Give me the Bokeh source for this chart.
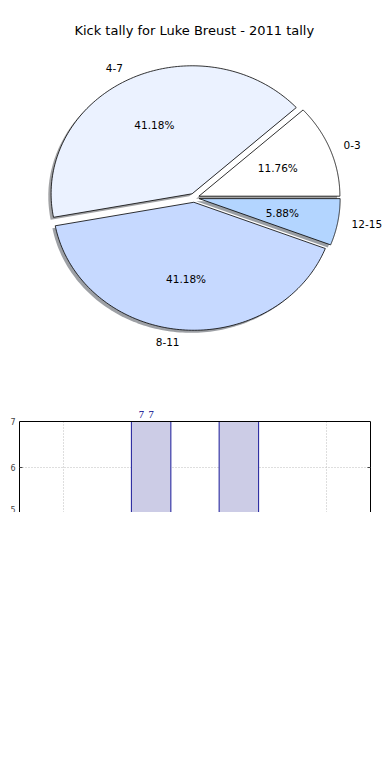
import numpy as np
from bokeh.plotting import figure
from bokeh.models import (ColumnDataSource, Label, LabelSet, LinearAxis,
                          FixedTicker, Range1d, Grid, Span)
from bokeh.core.properties import value, field
from bokeh.embed import file_html
from bokeh.resources import INLINE

# ---------------- data ----------------
title_text = "Kick tally for Luke Breust - 2011 tally"
categories = ["0-3", "4-7", "8-11", "12-15"]
counts = [2, 7, 7, 1]
slice_colors = ["#FFFFFF", "#EBF2FF", "#C6D9FF", "#B3D5FF"]
explode = [0.035, 0.035, 0.035, 0.035]

bar_x = [0, 1, 2, 3]
bar_label_x = [0.0, 0.89, 1.0, 3.0]
y_ticks = [5, 6, 7]
x_ticks = [0, 1, 2, 3]
y_shown = (5, 7)

FONT = "DejaVu Sans"

# ---------------- pie ----------------
total = float(sum(counts))
fracs = [c / total for c in counts]
theta = np.cumsum([0.0] + fracs) * 2 * np.pi


def hex_to_rgb(h):
    h = h.lstrip("#")
    return tuple(int(h[i:i + 2], 16) for i in (0, 2, 4))


px, py, fills, falpha, lalpha = [], [], [], [], []
lab_x, lab_y, lab_t, lab_a = [], [], [], []
pct_x, pct_y, pct_t = [], [], []
for i, c in enumerate(counts):
    t0, t1 = theta[i], theta[i + 1]
    mid = 0.5 * (t0 + t1)
    dx, dy = explode[i] * np.cos(mid), explode[i] * np.sin(mid)
    arc = np.linspace(t0, t1, 120)
    xs = [dx] + list(dx + np.cos(arc)) + [dx]
    ys = [dy] + list(dy + np.sin(arc)) + [dy]
    r, g, b = hex_to_rgb(slice_colors[i])
    shadow = "#%02x%02x%02x" % (int(r * 0.3), int(g * 0.3), int(b * 0.3))
    px.append([x - 0.02 for x in xs]); py.append([y - 0.02 for y in ys])
    fills.append(shadow); falpha.append(0.5); lalpha.append(0.0)
    px.append(xs); py.append(ys)
    fills.append(slice_colors[i]); falpha.append(1.0); lalpha.append(1.0)
    xt = dx + 1.1 * np.cos(mid)
    yt = dy + 1.1 * np.sin(mid)
    lab_x.append(xt); lab_y.append(yt); lab_t.append(categories[i])
    lab_a.append("left" if xt > 0 else "right")
    pct_x.append(dx + 0.6 * np.cos(mid)); pct_y.append(dy + 0.6 * np.sin(mid))
    pct_t.append("%.2f%%" % (100.0 * fracs[i]))

# frame covers the whole canvas
p1 = figure(width=382, height=388, x_range=Range1d(-1.3745, 1.3348),
            y_range=Range1d(-1.4898, 1.5414), output_backend="svg",
            toolbar_location=None, min_border=0,
            x_axis_location=None, y_axis_location=None)
p1.grid.visible = False
p1.outline_line_color = None

pie_src = ColumnDataSource(dict(xs=px, ys=py, fill=fills, fa=falpha, la=lalpha))
p1.patches("xs", "ys", source=pie_src, fill_color="fill", fill_alpha="fa",
           line_color="black", line_alpha="la", line_width=0.8)

lab_src = ColumnDataSource(dict(x=lab_x, y=lab_y, t=lab_t, a=lab_a))
p1.text("x", "y", text="t", source=lab_src, text_align=field("a"),
        text_baseline="middle", text_font=value(FONT),
        text_font_size="10.5px", text_color="black")
pct_src = ColumnDataSource(dict(x=pct_x, y=pct_y, t=pct_t))
p1.text("x", "y", text="t", source=pct_src, text_align="center",
        text_baseline="middle", text_font=value(FONT),
        text_font_size="10.5px", text_color="black")

p1.add_layout(Label(x=0.0, y=1.307, text=title_text, text_align="center",
                    text_baseline="middle", text_font=FONT,
                    text_font_size="13px", text_color="black"))

# ---------------- bars ----------------
p2 = figure(width=382, height=124, x_range=Range1d(-0.5, 3.5),
            y_range=Range1d(5, 7.3077), output_backend="svg",
            toolbar_location=None, min_border_left=19, min_border_right=12,
            min_border_top=19, min_border_bottom=0,
            x_axis_location=None, y_axis_location=None)
p2.grid.visible = False
p2.outline_line_color = None

grid_style = dict(grid_line_color="#bdbdbd", grid_line_dash="1 2",
                  grid_line_width=1)
p2.add_layout(Grid(dimension=1, ticker=FixedTicker(ticks=y_ticks), **grid_style))
if "cross_bounds" in Grid.properties():
    p2.add_layout(Grid(dimension=0, ticker=FixedTicker(ticks=x_ticks),
                       cross_bounds=y_shown, **grid_style))
else:
    p2.segment(x0=x_ticks, x1=x_ticks, y0=[y_shown[0]] * len(x_ticks),
               y1=[y_shown[1]] * len(x_ticks), line_color="#bdbdbd",
               line_dash="1 2", line_width=1)

bar_src = ColumnDataSource(dict(x=bar_x, top=counts))
p2.vbar(x="x", top="top", bottom=0, width=0.45, source=bar_src,
        fill_color="#CCCCE6", line_color="#1a1a99", line_width=1)

p2.add_layout(Span(location=y_shown[1], dimension="width",
                   line_color="black", line_width=1))

left = LinearAxis(ticker=FixedTicker(ticks=y_ticks), bounds=y_shown)
left.axis_line_color = "black"
left.major_tick_in = 3
left.major_tick_out = 0
left.minor_tick_line_color = None
left.major_label_standoff = 4
left.major_label_text_font = FONT
left.major_label_text_font_size = "8px"
left.major_tick_line_color = "#444444"
p2.add_layout(left, "left")

right = LinearAxis(ticker=FixedTicker(ticks=y_ticks), bounds=y_shown)
right.axis_line_color = "black"
right.major_tick_in = 3
right.major_tick_out = 0
right.minor_tick_line_color = None
right.major_label_overrides = {t: "" for t in y_ticks}
right.major_tick_line_color = "#444444"
p2.add_layout(right, "right")

# only the value labels of bars that reach the visible part of the axis
vis = [i for i, c in enumerate(counts) if y_shown[0] <= c <= y_shown[1]]
blab_src = ColumnDataSource(dict(x=[bar_label_x[i] for i in vis],
                                 y=[counts[i] for i in vis],
                                 t=[str(counts[i]) for i in vis]))
p2.add_layout(LabelSet(x="x", y="y", text="t", source=blab_src,
                       text_align="center", text_baseline="bottom",
                       y_offset=4, text_font=FONT, text_font_size="10.5px",
                       text_color="#00008B"))

open("out.html", "w").write(file_html([p1, p2], INLINE))
